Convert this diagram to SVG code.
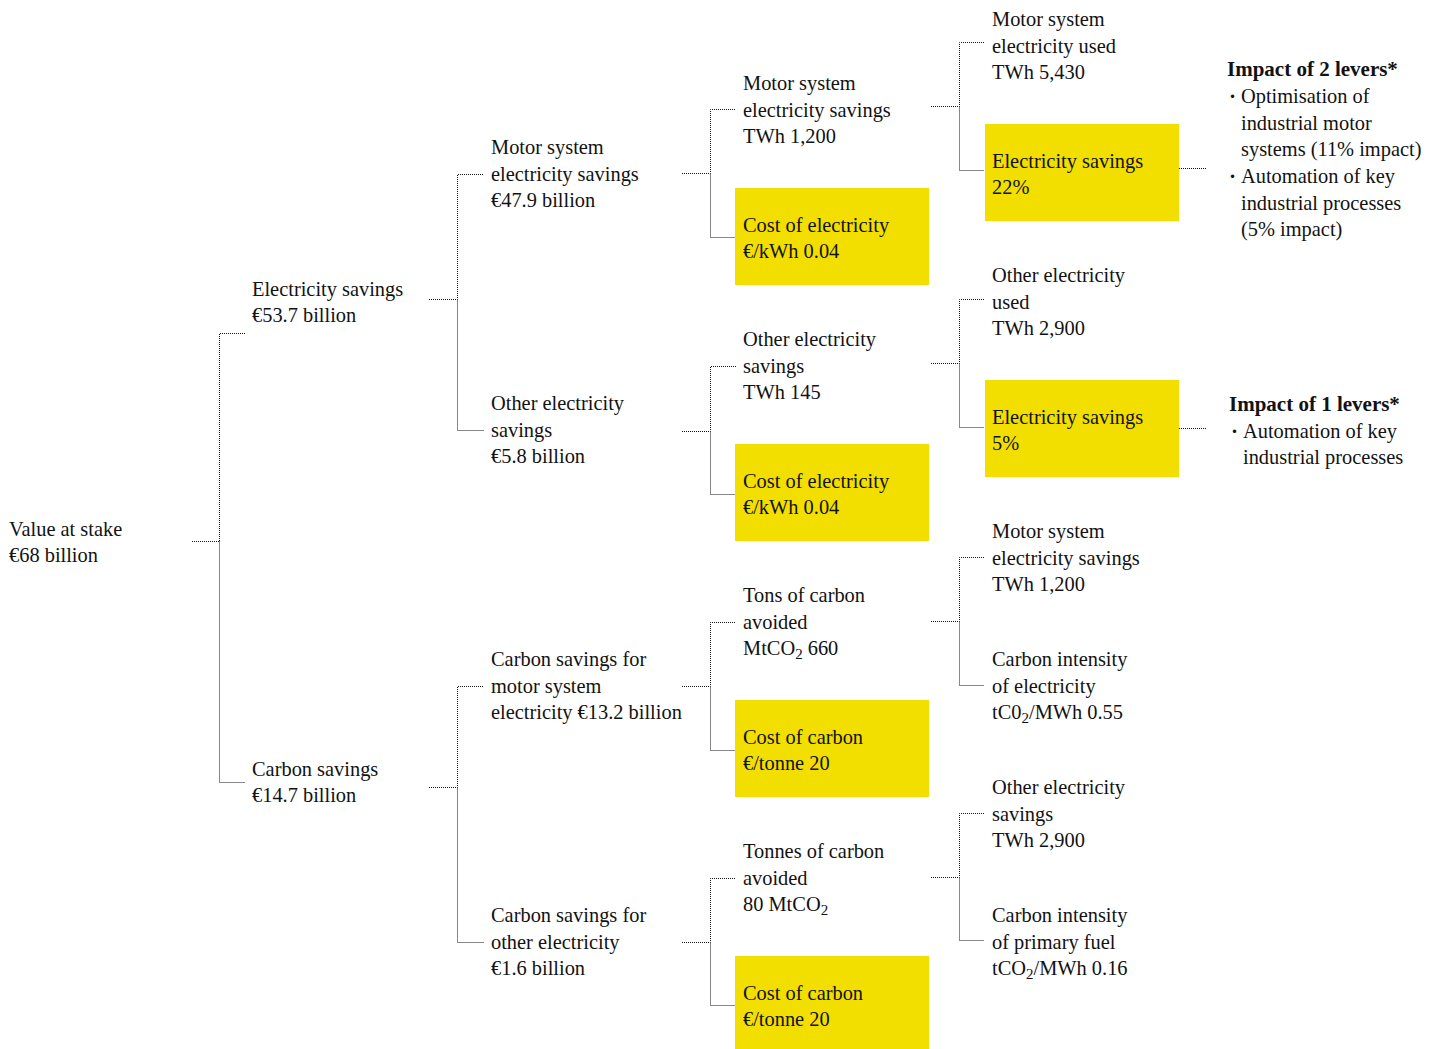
<svg xmlns="http://www.w3.org/2000/svg" width="1440" height="1049" viewBox="0 0 1440 1049">
<style>
text{font-family:"Liberation Serif","Times New Roman",serif;font-size:20.4px;fill:#121212}
.b{font-weight:bold;font-size:21px}
.box{fill:#f2df00}
.c path{fill:none;stroke:#111;stroke-width:1;stroke-dasharray:1 1}
.sub{font-size:15px}
</style>
<rect width="1440" height="1049" fill="#fff"/>
<g class="c" id="connectors">
<path d="M192 541.5H219.5V333.5H245M219.5 541.5V782.5H245"/>
<path d="M429 299.5H457.5V174.5H484M457.5 299.5V430.5H484"/>
<path d="M429 787.5H457.5V686.5H484M457.5 787.5V942.5H484"/>
<path d="M682 173.5H710.5V109.5H736M710.5 173.5V237.5H736"/>
<path d="M682 431.5H710.5V366.5H736M710.5 431.5V494.5H736"/>
<path d="M682 686.5H710.5V622.5H736M710.5 686.5V750.5H736"/>
<path d="M682 942.5H710.5V878.5H736M710.5 942.5V1005.5H736"/>
<path d="M931 106.5H959.5V42.5H984M959.5 106.5V170.5H984"/>
<path d="M931 363.5H959.5V299.5H984M959.5 363.5V427.5H984"/>
<path d="M931 621.5H959.5V557.5H984M959.5 621.5V685.5H984"/>
<path d="M931 877.5H959.5V813.5H984M959.5 877.5V940.5H984"/>
<path d="M1179 168.5H1207"/>
<path d="M1179 428.5H1207"/>
</g>
<g id="n-value"><text x="9" y="536">Value at stake</text><text x="9" y="562">€68 billion</text></g>
<g id="n-elec"><text x="252" y="296">Electricity savings</text><text x="252" y="322">€53.7 billion</text></g>
<g id="n-carbon"><text x="252" y="776">Carbon savings</text><text x="252" y="802">€14.7 billion</text></g>
<g id="n-motor"><text x="491" y="154">Motor system</text><text x="491" y="181">electricity savings</text><text x="491" y="207">€47.9 billion</text></g>
<g id="n-other"><text x="491" y="410">Other electricity</text><text x="491" y="437">savings</text><text x="491" y="463">€5.8 billion</text></g>
<g id="n-cmotor"><text x="491" y="666">Carbon savings for</text><text x="491" y="693">motor system</text><text x="491" y="719">electricity €13.2 billion</text></g>
<g id="n-cother"><text x="491" y="922">Carbon savings for</text><text x="491" y="949">other electricity</text><text x="491" y="975">€1.6 billion</text></g>
<g id="n-mtwh"><text x="743" y="90">Motor system</text><text x="743" y="117">electricity savings</text><text x="743" y="143">TWh 1,200</text></g>
<g id="n-cost1"><rect class="box" x="735" y="188" width="194" height="97"/><text x="743" y="232">Cost of electricity</text><text x="743" y="258">€/kWh 0.04</text></g>
<g id="n-otwh"><text x="743" y="346">Other electricity</text><text x="743" y="373">savings</text><text x="743" y="399">TWh 145</text></g>
<g id="n-cost2"><rect class="box" x="735" y="444" width="194" height="97"/><text x="743" y="488">Cost of electricity</text><text x="743" y="514">€/kWh 0.04</text></g>
<g id="n-tons"><text x="743" y="602">Tons of carbon</text><text x="743" y="629">avoided</text><text x="743" y="655">MtCO<tspan class="sub" dy="4">2</tspan><tspan dy="-4"> 660</tspan></text></g>
<g id="n-cc1"><rect class="box" x="735" y="700" width="194" height="97"/><text x="743" y="744">Cost of carbon</text><text x="743" y="770">€/tonne 20</text></g>
<g id="n-tonnes"><text x="743" y="858">Tonnes of carbon</text><text x="743" y="885">avoided</text><text x="743" y="911">80 MtCO<tspan class="sub" dy="4">2</tspan></text></g>
<g id="n-cc2"><rect class="box" x="735" y="956" width="194" height="93"/><text x="743" y="1000">Cost of carbon</text><text x="743" y="1026">€/tonne 20</text></g>
<g id="n-mused"><text x="992" y="26">Motor system</text><text x="992" y="53">electricity used</text><text x="992" y="79">TWh 5,430</text></g>
<g id="n-es22"><rect class="box" x="985" y="124" width="194" height="97"/><text x="992" y="168">Electricity savings</text><text x="992" y="194">22%</text></g>
<g id="n-oused"><text x="992" y="282">Other electricity</text><text x="992" y="309">used</text><text x="992" y="335">TWh 2,900</text></g>
<g id="n-es5"><rect class="box" x="985" y="380" width="194" height="97"/><text x="992" y="424">Electricity savings</text><text x="992" y="450">5%</text></g>
<g id="n-mtwh2"><text x="992" y="538">Motor system</text><text x="992" y="565">electricity savings</text><text x="992" y="591">TWh 1,200</text></g>
<g id="n-ci1"><text x="992" y="666">Carbon intensity</text><text x="992" y="693">of electricity</text><text x="992" y="719">tC0<tspan class="sub" dy="4">2</tspan><tspan dy="-4">/MWh 0.55</tspan></text></g>
<g id="n-otwh2"><text x="992" y="794">Other electricity</text><text x="992" y="821">savings</text><text x="992" y="847">TWh 2,900</text></g>
<g id="n-ci2"><text x="992" y="922">Carbon intensity</text><text x="992" y="949">of primary fuel</text><text x="992" y="975">tCO<tspan class="sub" dy="4">2</tspan><tspan dy="-4">/MWh 0.16</tspan></text></g>
<g id="n-impact2"><text class="b" x="1227" y="76">Impact of 2 levers*</text>
<text class="b" x="1229" y="103">·</text><text x="1241" y="103">Optimisation of</text><text x="1241" y="130">industrial motor</text><text x="1241" y="156">systems (11% impact)</text>
<text class="b" x="1229" y="183">·</text><text x="1241" y="183">Automation of key</text><text x="1241" y="210">industrial processes</text><text x="1241" y="236">(5% impact)</text></g>
<g id="n-impact1"><text class="b" x="1229" y="411">Impact of 1 levers*</text>
<text class="b" x="1231" y="438">·</text><text x="1243" y="438">Automation of key</text><text x="1243" y="464">industrial processes</text></g>
</svg>
